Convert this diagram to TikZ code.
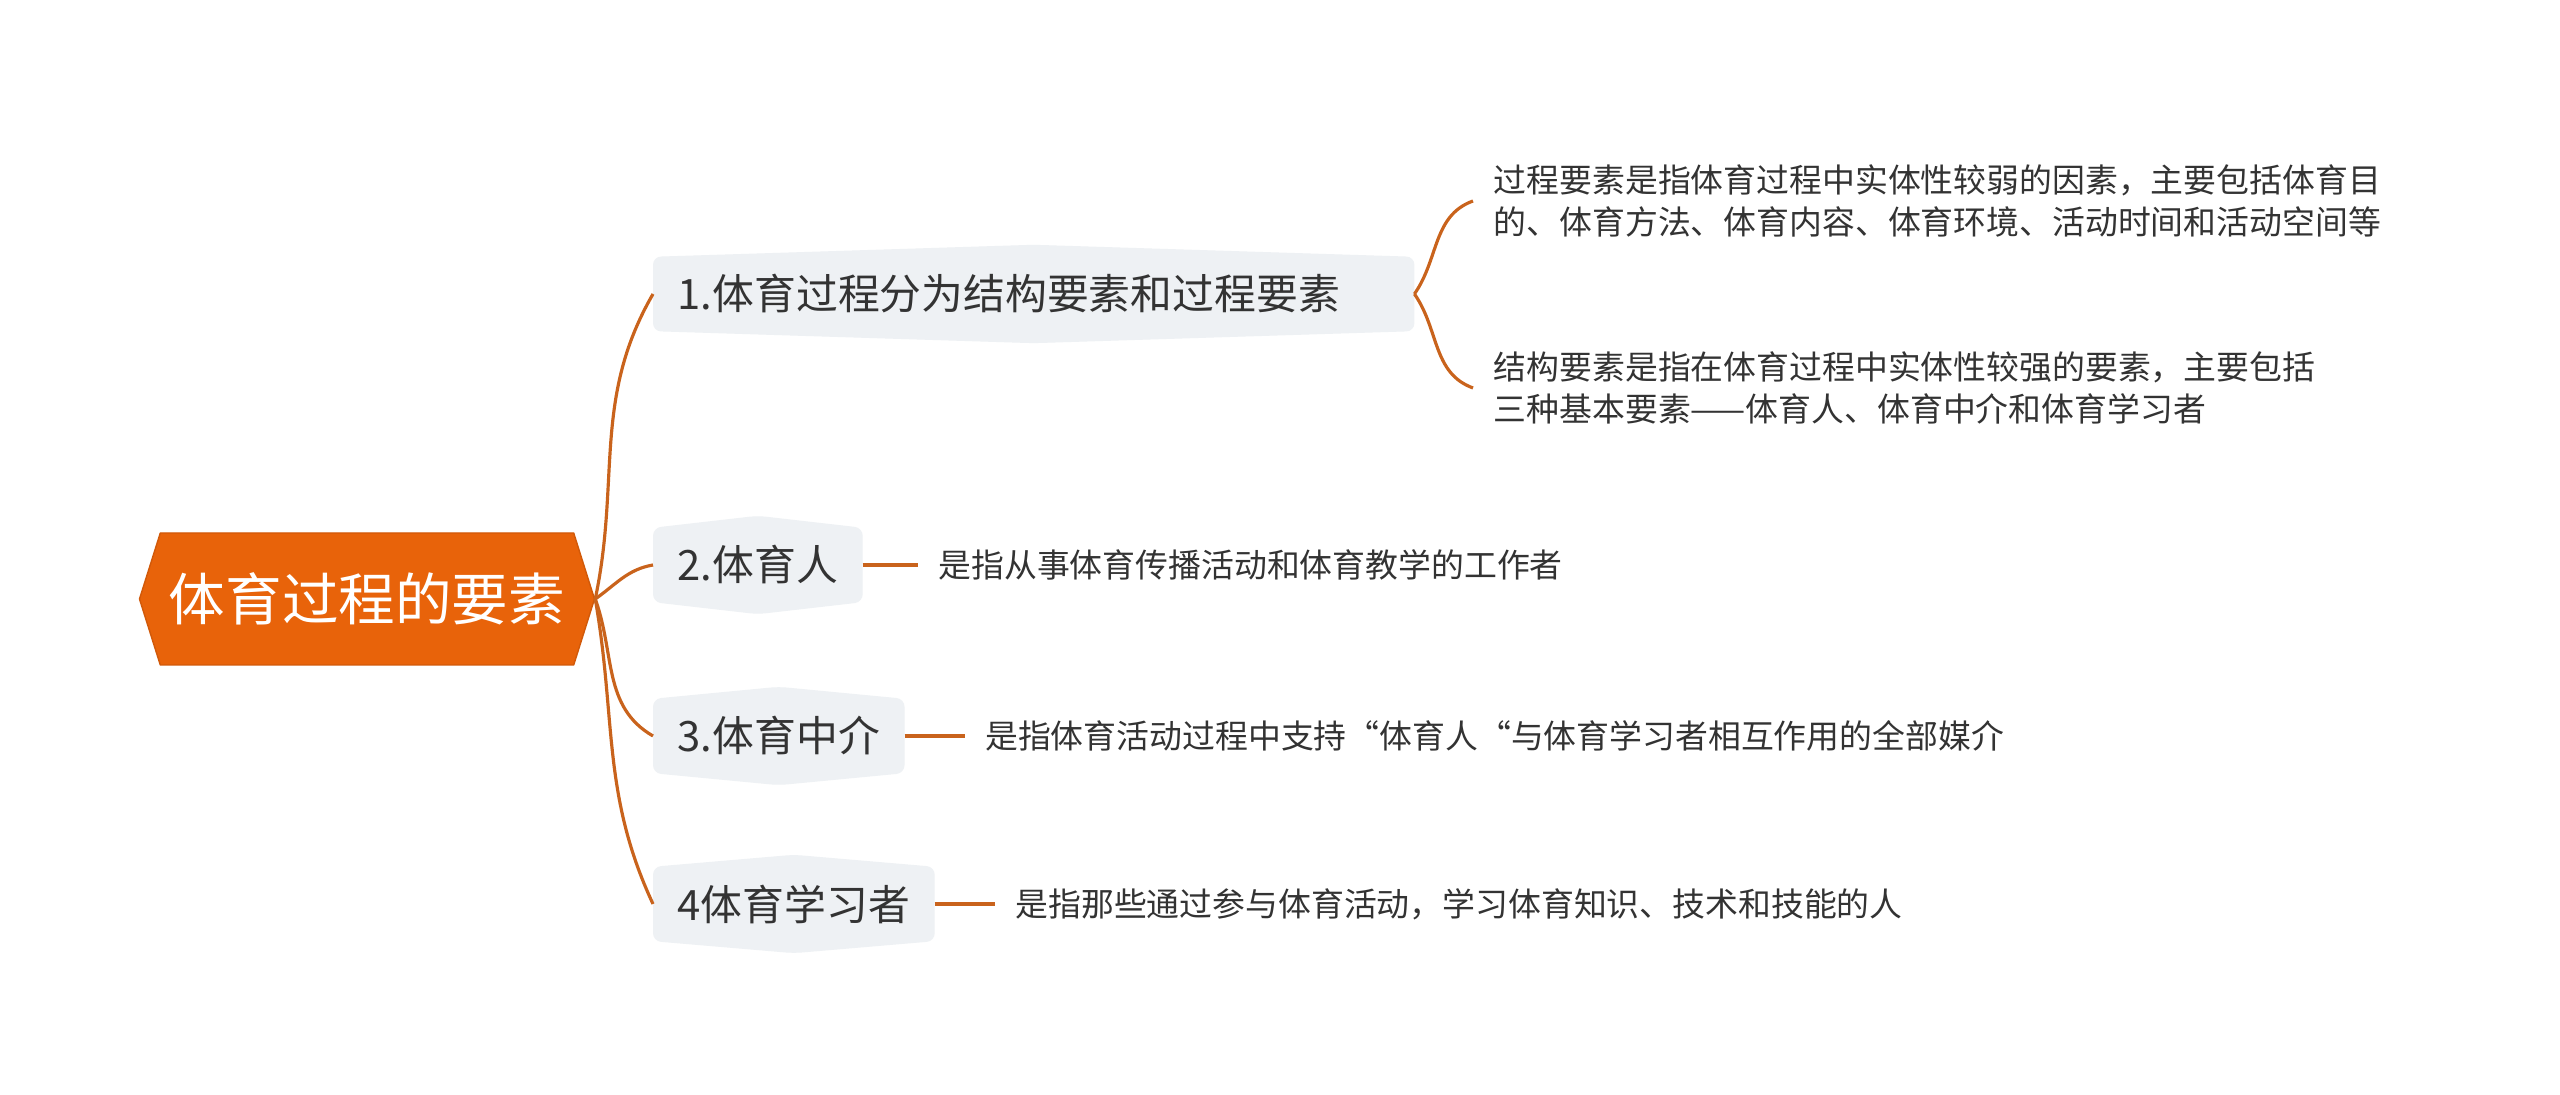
\documentclass[tikz,border=0pt]{standalone}
\usepackage{fontspec}
\setmainfont{Noto Sans CJK SC}
\usetikzlibrary{positioning,calc,backgrounds,shapes.symbols}
\definecolor{rootfill}{HTML}{E8630A}
\definecolor{linkcol}{HTML}{C9631C}
\definecolor{boxfill}{HTML}{EEF1F4}
\definecolor{textcol}{HTML}{333333}

\begin{document}
\begin{tikzpicture}[line join=bevel,
  rootbox/.style={shape=signal,signal to=east and west,signal pointer angle=145,
    fill=rootfill,draw=rootfill!90!black,line width=0.4pt,minimum width=4.55cm,
    minimum height=1.32cm,inner sep=0pt,text=white,font=\fontsize{16.1}{18}\selectfont},
  topic/.style={anchor=west,minimum height=0.73cm,inner xsep=0.24cm,inner ysep=0pt,
    text=textcol,font=\fontsize{11.9}{14}\selectfont},
  leaf/.style={anchor=west,inner xsep=0.2cm,inner ysep=0pt,align=left,
    text=textcol,font=\fontsize{9.35}{11.95}\selectfont},
  link/.style={draw=linkcol,line width=0.9pt},
]
 \useasboundingbox (0,0) rectangle (25.6,10.95);

 \node (node_0) at (3.67,4.96) [rootbox] {体育过程的要素};

 \node (node_1) at (6.53,8.01) [topic,text width=7.12cm] {1.体育过程分为结构要素和过程要素};
 \node (node_2) at (6.53,5.30) [topic] {2.体育人};
 \node (node_3) at (6.53,3.59) [topic] {3.体育中介};
 \node (node_4) at (6.53,1.91) [topic] {4体育学习者};

 \node (node_5) at (14.73,8.94) [leaf] {过程要素是指体育过程中实体性较弱的因素，主要包括体育目\\的、体育方法、体育内容、体育环境、活动时间和活动空间等};
 \node (node_6) at (14.73,7.07) [leaf] {结构要素是指在体育过程中实体性较强的要素，主要包括\\三种基本要素——体育人、体育中介和体育学习者};
 \node (node_7) [leaf,right=0.55cm of node_2] {是指从事体育传播活动和体育教学的工作者};
 \node (node_8) [leaf,right=0.6cm of node_3] {是指体育活动过程中支持“体育人“与体育学习者相互作用的全部媒介};
 \node (node_9) [leaf,right=0.6cm of node_4] {是指那些通过参与体育活动，学习体育知识、技术和技能的人};

 \begin{scope}[on background layer]
  \fill [white] (0,0) rectangle (25.6,10.95);
  \foreach \n in {node_1,node_2,node_3,node_4}
   \fill [boxfill,rounded corners=0.08cm] (\n.north west) -- ($(\n.north)+(0,0.12)$)
     -- (\n.north east) -- (\n.south east) -- ($(\n.south)+(0,-0.12)$) -- (\n.south west) -- cycle;
 \end{scope}

  \draw [link] (node_0.east) to[out=78,in=240] (node_1.west);
  \draw [link] (node_0.east) to[out=35,in=190] (node_2.west);
  \draw [link] (node_0.east) to[out=-70,in=150] (node_3.west);
  \draw [link] (node_0.east) to[out=-80,in=115] (node_4.west);

  \draw [link] (node_1.east) to[out=55,in=200] (node_5.west);
  \draw [link] (node_1.east) to[out=-55,in=160] (node_6.west);
  \draw [link] (node_2.east) -- (node_7.west);
  \draw [link] (node_3.east) -- (node_8.west);
  \draw [link] (node_4.east) -- (node_9.west);
\end{tikzpicture}
\end{document}
